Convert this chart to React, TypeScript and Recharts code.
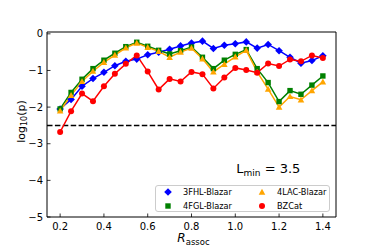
import React from "react";
import {
  ComposedChart,
  Line,
  XAxis,
  YAxis,
  ReferenceLine,
  ReferenceArea,
  ReferenceDot,
  Legend,
} from "recharts";

// R_assoc grid (0.20 .. 1.40, step 0.05)
const rAssoc = [
  0.2, 0.25, 0.3, 0.35, 0.4, 0.45, 0.5, 0.55, 0.6, 0.65, 0.7, 0.75, 0.8,
  0.85, 0.9, 0.95, 1.0, 1.05, 1.1, 1.15, 1.2, 1.25, 1.3, 1.35, 1.4,
];

// log10(p) per catalogue
const fhl3 = [
  -2.05, -1.79, -1.43, -1.22, -1.05, -0.87, -0.75, -0.69, -0.57, -0.5, -0.42,
  -0.33, -0.25, -0.2, -0.4, -0.31, -0.27, -0.22, -0.39, -0.29, -0.46, -0.64,
  -0.8, -0.73, -0.6,
];
const fgl4 = [
  -2.05, -1.6, -1.24, -0.95, -0.72, -0.53, -0.35, -0.23, -0.34, -0.45, -0.55,
  -0.46, -0.36, -0.64, -0.95, -0.72, -0.56, -0.43, -0.95, -1.33, -1.85, -1.55,
  -1.65, -1.4, -1.15,
];
const lac4 = [
  -2.1, -1.68, -1.3, -1.02, -0.78, -0.58, -0.38, -0.25, -0.37, -0.48, -0.64,
  -0.5, -0.39, -0.68, -1.04, -0.83, -0.63, -0.45, -1.04, -1.51, -2.0, -1.71,
  -1.8, -1.55, -1.31,
];
const bzcat = [
  -2.68, -2.11, -1.63, -1.84, -1.43, -1.09, -0.82, -0.59, -1.03, -1.52, -1.23,
  -1.3, -1.04, -1.1, -1.49, -1.19, -0.93, -0.99, -1.06, -0.81, -0.88, -0.7,
  -0.75, -0.59, -0.66,
];

const xTicks = [0.2, 0.4, 0.6, 0.8, 1.0, 1.2, 1.4];
const yTicks = [-5, -4, -3, -2, -1, 0];
const xDomain = [0.14, 1.46];
const yDomain = [-5, 0.05];
const threshold = -2.5;
const lMinText = { x: 1.0, y: -3.8, value: "3.5" };

const series = [
  { key: "fhl3", name: "3FHL-Blazar", color: "#0000ff", shape: "diamond" },
  { key: "fgl4", name: "4FGL-Blazar", color: "#008000", shape: "square" },
  { key: "lac4", name: "4LAC-Blazar", color: "#ffa500", shape: "triangle" },
  { key: "bzcat", name: "BZCat", color: "#ff0000", shape: "circle" },
];

const data = rAssoc.map((r, i) => ({
  r,
  fhl3: fhl3[i],
  fgl4: fgl4[i],
  lac4: lac4[i],
  bzcat: bzcat[i],
}));

const FONT = "DejaVu Sans";

const MarkerShape = ({ cx, cy, shape, color }: any) => {
  if (cx == null || cy == null) return null;
  if (shape === "diamond") {
    const d = 3.8;
    return (
      <polygon
        points={`${cx},${cy - d} ${cx + d},${cy} ${cx},${cy + d} ${cx - d},${cy}`}
        fill={color}
      />
    );
  }
  if (shape === "square") {
    const s = 2.7;
    return <rect x={cx - s} y={cy - s} width={s * 2} height={s * 2} fill={color} />;
  }
  if (shape === "triangle") {
    const s = 3.3;
    return (
      <polygon
        points={`${cx},${cy - s} ${cx + s},${cy + s * 0.8} ${cx - s},${cy + s * 0.8}`}
        fill={color}
      />
    );
  }
  return <circle cx={cx} cy={cy} r={3} fill={color} />;
};

const XTick = ({ x, y, payload }: any) => (
  <g>
    <line x1={x} x2={x} y1={y} y2={y - 3.5} stroke="#000" strokeWidth={0.8} />
    <text x={x} y={y + 13} textAnchor="middle" fontSize={10} fontFamily={FONT} fill="#000">
      {Number(payload.value).toFixed(1)}
    </text>
  </g>
);

const YTick = ({ x, y, payload }: any) => (
  <g>
    <line x1={x} x2={x + 3.5} y1={y} y2={y} stroke="#000" strokeWidth={0.8} />
    <text x={x - 4} y={y + 3.6} textAnchor="end" fontSize={10} fontFamily={FONT} fill="#000">
      {payload.value < 0 ? `\u2212${Math.abs(payload.value)}` : `${payload.value}`}
    </text>
  </g>
);

const YLabel = ({ viewBox }: any) => {
  const cx = viewBox.x + 24.5;
  const cy = viewBox.y + viewBox.height / 2 - 3;
  return (
    <text
      x={cx}
      y={cy}
      transform={`rotate(-90, ${cx}, ${cy})`}
      textAnchor="middle"
      fontSize={11}
      fontFamily={FONT}
      fill="#000"
    >
      log
      <tspan dy={2.5} fontSize={8}>10</tspan>
      <tspan dy={-2.5}>(p)</tspan>
    </text>
  );
};

const XLabel = ({ viewBox }: any) => {
  const cx = viewBox.x + viewBox.width / 2 + 2;
  const cy = viewBox.y + 25;
  return (
    <text x={cx} y={cy} textAnchor="middle" fontSize={12} fontFamily={FONT} fill="#000">
      <tspan fontStyle="italic">R</tspan>
      <tspan dy={2.5} fontSize={8.5}>assoc</tspan>
    </text>
  );
};

const LminLabel = ({ cx, cy }: any) => (
  <text x={cx + 1} y={cy} fontSize={13} fontFamily={FONT} fill="#000">
    L
    <tspan dy={3} fontSize={9}>min</tspan>
    <tspan dy={-3}>{` = ${lMinText.value}`}</tspan>
  </text>
);

const LegendBox = () => {
  const cols = [
    [series[0], series[1]],
    [series[2], series[3]],
  ];
  return (
    <div
      style={{
        width: 175,
        height: 27,
        boxSizing: "border-box",
        border: "1px solid #cccccc",
        borderRadius: 3,
        background: "rgba(255,255,255,0.8)",
      }}
    >
      <svg width={175} height={27} style={{ display: "block", marginTop: -1, marginLeft: -1 }}>
        {cols.map((col, ci) =>
          col.map((s, ri) => (
            <g key={s.key}>
              <MarkerShape cx={13 + ci * 94} cy={7 + ri * 14} shape={s.shape} color={s.color} />
              <text
                x={28 + ci * 94}
                y={10 + ri * 14}
                fontSize={8.2}
                fontFamily={FONT}
                fill="#000"
              >
                {s.name}
              </text>
            </g>
          ))
        )}
      </svg>
    </div>
  );
};

export default function App() {
  return (
    <div style={{ position: "absolute", left: 0, top: 0, width: 374, height: 249, background: "#fff" }}>
      <ComposedChart
        width={374}
        height={249}
        data={data}
        margin={{ top: 32, right: 38, bottom: 0, left: 0 }}
      >
        <XAxis
          dataKey="r"
          type="number"
          domain={xDomain}
          ticks={xTicks}
          allowDataOverflow
          axisLine={false}
          tickLine={false}
          tickSize={0}
          tickMargin={0}
          height={32}
          tick={<XTick />}
          label={<XLabel />}
        />
        <YAxis
          type="number"
          domain={yDomain}
          ticks={yTicks}
          allowDataOverflow
          axisLine={false}
          tickLine={false}
          tickSize={0}
          tickMargin={0}
          width={47}
          tick={<YTick />}
          label={<YLabel />}
        />
        <ReferenceLine
          y={threshold}
          stroke="#000"
          strokeWidth={1.5}
          strokeDasharray="5.5 2.4"
        />
        {series.map((s) => (
          <Line
            key={s.key}
            dataKey={s.key}
            name={s.name}
            stroke={s.color}
            strokeWidth={1.5}
            isAnimationActive={false}
            dot={(p: any) => (
              <MarkerShape key={`${s.key}-${p.index}`} cx={p.cx} cy={p.cy} shape={s.shape} color={s.color} />
            )}
            activeDot={false}
          />
        ))}
        <ReferenceDot
          x={lMinText.x}
          y={lMinText.y}
          r={0}
          shape={(p: any) => <LminLabel cx={p.cx} cy={p.cy} />}
        />
        <ReferenceArea
          x1={xDomain[0]}
          x2={xDomain[1]}
          y1={yDomain[0]}
          y2={yDomain[1]}
          fill="none"
          stroke="#000"
          strokeWidth={1}
        />
        <Legend
          layout="vertical"
          align="center"
          verticalAlign="middle"
          wrapperStyle={{ left: 155, top: 185, width: 175 }}
          content={() => <LegendBox />}
        />
      </ComposedChart>
    </div>
  );
}
